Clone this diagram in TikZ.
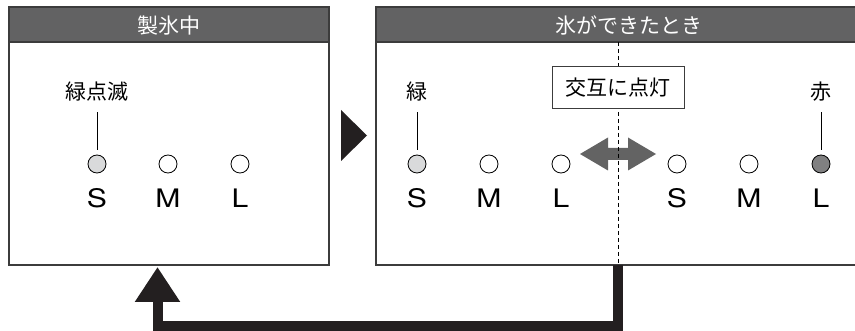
\documentclass[tikz,border=0pt]{standalone}
\usepackage{fontspec}
\newfontfamily\jp{Noto Sans CJK JP}
\newfontfamily\heros[FakeStretch=1.18]{TeX Gyre Heros}
\usetikzlibrary{arrows.meta}
\definecolor{hdrgray}{HTML}{626263}
\definecolor{edge}{HTML}{3C3C3C}
\definecolor{lightlamp}{HTML}{D9DADB}
\definecolor{darklamp}{HTML}{808081}
\definecolor{arrowgray}{HTML}{636363}
\definecolor{inkblack}{HTML}{231F20}
\begin{document}
\begin{tikzpicture}[x=1pt,y=-1pt,
  panel/.style={draw=edge,line width=1.2pt,fill=white},
  hdrfill/.style={draw=edge,line width=1.2pt,fill=hdrgray},
  hdr/.style={font=\jp\fontsize{21}{21}\selectfont,text=white,inner sep=0pt,anchor=base},
  lamp/.style={circle,draw=black,line width=0.8pt,minimum size=18pt,inner sep=0pt,fill=white},
  letter/.style={font=\heros\fontsize{25.5}{25.5}\selectfont,inner sep=0pt,anchor=base},
  lbl/.style={font=\jp\fontsize{21}{21}\selectfont,inner sep=0pt,anchor=base,text depth=0pt},
  leader/.style={draw=black,line width=0.8pt,shorten <=12pt,shorten >=5pt},
  altbox/.style={draw=edge,line width=1pt,fill=white,minimum width=132pt,minimum height=42pt,inner sep=0pt,font=\jp\fontsize{21}{21}\selectfont},
  divider/.style={draw=black,line width=0.9pt,dash pattern=on 4pt off 3pt},
  loopline/.style={draw=inkblack,line width=10pt,line join=miter,-{Triangle[width=43pt,length=35pt]}},
]
\useasboundingbox (0,0) rectangle (855,331);
\clip (0,0) rectangle (855,331);

% panels
\draw[panel] (9,7) rectangle (329,265);
\draw[hdrfill] (9,7) rectangle (329,42);
\draw[panel] (376,7) rectangle (880,265);
\draw[hdrfill] (376,7) rectangle (880,42);

\node[hdr] (h1) at (169,34) {製氷中};
\node[hdr] (h2) at (629,34) {氷ができたとき};

% left panel lamps
\node[lamp,fill=lightlamp] (ls) at (97,164) {};
\node[lamp] (lm) at (168,164) {};
\node[lamp] (ll) at (240,164) {};
\node[letter] (lst) at (97,208) {S};
\node[letter] (lmt) at (168,208) {M};
\node[letter] (llt) at (240,208) {L};
\node[lbl] (lab1) at (97,100) {緑点滅};
\draw[leader] (lab1.south) -- (ls.north);

% pointer triangle
\fill[inkblack] (341,110) -- (367,135.5) -- (341,161) -- cycle;

% double arrow
\fill[arrowgray] (580,154) -- (608,137.5) -- (608,148) -- (628,148) -- (628,137.5)
  -- (656,154) -- (628,170.5) -- (628,160) -- (608,160) -- (608,170.5) -- cycle;

% divider
\coordinate (dtop) at (618,42);
\coordinate (dbot) at (618,265);
\draw[divider] (dtop) -- (dbot);

\node[altbox] (alt) at (618,88) {交互に点灯};

% right panel lamps
\node[lamp,fill=lightlamp] (rs1) at (417,164) {};
\node[lamp] (rm1) at (489,164) {};
\node[lamp] (rl1) at (561,164) {};
\node[lamp] (rs2) at (677,164) {};
\node[lamp] (rm2) at (749,164) {};
\node[lamp,fill=darklamp] (rl2) at (821,164) {};
\node[letter] (rs1t) at (417,208) {S};
\node[letter] (rm1t) at (489,208) {M};
\node[letter] (rl1t) at (561,208) {L};
\node[letter] (rs2t) at (677,208) {S};
\node[letter] (rm2t) at (749,208) {M};
\node[letter] (rl2t) at (821,208) {L};
\node[lbl] (lab2) at (417,100) {緑};
\node[lbl] (lab3) at (821,100) {赤};
\draw[leader] (lab2.south) -- (rs1.north);
\draw[leader] (lab3.south) -- (rl2.north);

% return loop
\coordinate (ltip) at (157.5,267);
\draw[loopline] (dbot) |- (157.5,326) -- (ltip);
\end{tikzpicture}
\end{document}
